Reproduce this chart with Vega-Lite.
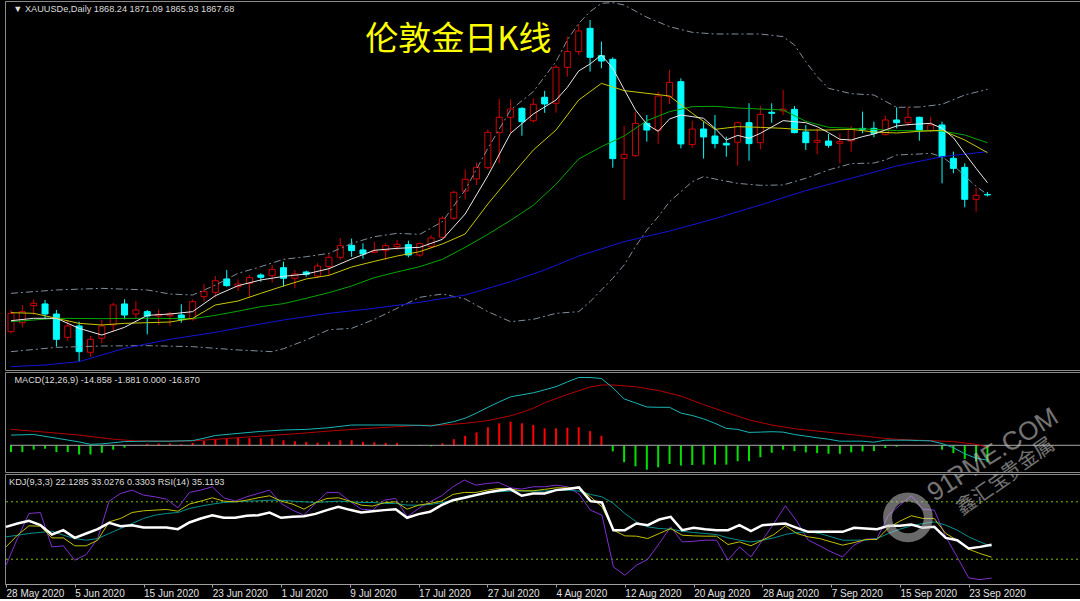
{"$schema":"https://vega.github.io/schema/vega-lite/v6.json","background":"#000000","padding":0,"spacing":0,"config":{"view":{"stroke":"#8a8a8a","strokeWidth":1},"concat":{"spacing":0}},
"datasets":{"g":[
{"i":0,"o":1705.7,"h":1731.4,"l":1703.7,"c":1727.4,"m5":1718.7,"m10":1728.2,"m20":1717.5,"m60":1664.2,"bu":1751.1,"bl":1682,"md":10.2,"sg":15.9,"hs":-6.8,"k":32.9,"d":43.4,"j":13.7,"r":53.8},
{"i":1,"o":1716.3,"h":1737.3,"l":1710.8,"c":1729.4,"hs":-6.8,"k":45.1,"d":45,"j":41.6,"r":57.3},
{"i":2,"o":1736.5,"h":1744,"l":1725.4,"c":1739.3,"m5":1721.5,"m10":1727.4,"md":10.8,"hs":-4.4,"k":54.9,"d":46.9,"j":67.8,"r":60.1},
{"i":3,"o":1738.5,"h":1743.2,"l":1721.5,"c":1726.6,"m60":1666.2,"sg":13.2,"hs":-3.4,"k":54.5,"d":48,"j":68.8,"r":55.6},
{"i":4,"o":1726.6,"h":1731.4,"l":1687.9,"c":1696.6,"m5":1721.5,"m10":1721.5,"m20":1721.5,"bu":1755.1,"bl":1687.1,"md":7.1,"hs":-6.8,"k":42.3,"d":49.3,"j":32.9,"r":45.8},
{"i":5,"o":1699,"h":1719.5,"l":1695,"c":1712.4,"hs":-6.8,"k":42.3,"d":45.1,"j":34,"r":50.4},
{"i":6,"o":1712.4,"h":1717.5,"l":1670.1,"c":1682,"m5":1709.6,"m10":1715.5,"m60":1670.1,"md":3.4,"sg":10.2,"hs":-9.2,"k":34,"d":41.6,"j":19,"r":42.3},
{"i":7,"o":1681.2,"h":1700.5,"l":1676.1,"c":1696.6,"md":1,"hs":-9.2,"k":34,"d":39.9,"j":24.9,"r":46.9},
{"i":8,"o":1697.8,"h":1719.5,"l":1691.9,"c":1712.4,"m5":1701.7,"m10":1713.6,"m20":1721.1,"bu":1757,"bl":1688.7,"md":1.4,"hs":-7.5,"k":39.9,"d":41.6,"j":41.6,"r":51.4},
{"i":9,"o":1713.6,"h":1740,"l":1705.7,"c":1737.3,"sg":6.1,"hs":-4.4,"k":59.1,"d":46.9,"j":80.7,"r":58},
{"i":10,"o":1738.5,"h":1744,"l":1720.3,"c":1725.4,"m5":1710.8,"m10":1715.5,"m60":1685.9,"md":3.7,"hs":-2.4,"k":62.6,"d":52.1,"j":88.7,"r":54.5},
{"i":11,"o":1726.6,"h":1742,"l":1721.5,"c":1731.4,"sg":4.4,"hs":0.3,"k":68.8,"d":57.3,"j":92.2,"r":55.6},
{"i":12,"o":1729.4,"h":1731.4,"l":1702.5,"c":1724.2,"m5":1725,"m10":1716.3,"m20":1721.5,"bu":1755.1,"bl":1689.1,"md":4.1,"hs":1.4,"k":70.6,"d":62.6,"j":87,"r":53.1},
{"i":13,"o":1724.2,"h":1732.1,"l":1713.6,"c":1726.2,"hs":1.7,"k":71.3,"d":66,"j":85.2,"r":53.1},
{"i":14,"o":1724.6,"h":1729.4,"l":1712.4,"c":1727,"m5":1726.6,"m10":1717.1,"m60":1696.6,"bu":1750.3,"md":4.1,"sg":4.1,"hs":1.7,"k":72,"d":67.8,"j":82.8,"r":53.1},
{"i":15,"o":1725.4,"h":1738.1,"l":1716.3,"c":1720.3,"hs":1,"k":70.2,"d":68.8,"j":73.7,"r":51.4},
{"i":16,"o":1720.7,"h":1744,"l":1718.7,"c":1741.2,"m5":1729.4,"m10":1721.5,"m20":1721,"bu":1749.1,"bl":1687.9,"md":4.7,"sg":4.4,"hs":2.4,"k":77.6,"d":73,"j":89.8,"r":58.4},
{"i":17,"o":1747.2,"h":1762.2,"l":1741.2,"c":1753.1,"md":7.1,"hs":4.4,"k":80.7,"d":75.5,"j":92.2,"r":62.6},
{"i":18,"o":1752.3,"h":1771.6,"l":1746,"c":1766.1,"m5":1748.3,"m10":1737.3,"m20":1725,"m60":1704.9,"bu":1760.9,"md":9.8,"hs":6.1,"k":84.2,"d":77.6,"j":95.7,"r":66},
{"i":19,"o":1768.1,"h":1778.8,"l":1759,"c":1760.2,"sg":6.8,"hs":7.1,"k":80.7,"d":79.3,"j":84.2,"r":63.3},
{"i":20,"o":1759,"h":1767.7,"l":1753.9,"c":1762.2,"m5":1760.2,"m10":1742,"m20":1730,"bu":1774.8,"bl":1684,"md":11.9,"hs":7.5,"k":80,"d":80,"j":80.7,"r":63.3},
{"i":21,"o":1763,"h":1772.8,"l":1746,"c":1769.7,"hs":7.1,"k":81.7,"d":80.7,"j":85.2,"r":65.4},
{"i":22,"o":1772.8,"h":1774.8,"l":1765,"c":1770.1,"m5":1766.9,"m10":1751.1,"m20":1735.3,"m60":1714.8,"bu":1782.7,"md":13.9,"sg":9.2,"hs":7.1,"k":84.2,"d":81,"j":88.7,"r":66},
{"i":23,"o":1772,"h":1784.7,"l":1763.7,"c":1779.5,"bl":1682,"hs":6.8,"k":86.3,"d":81.7,"j":92.2,"r":68.8},
{"i":24,"o":1781.5,"h":1788.6,"l":1759,"c":1768.9,"m5":1771.2,"m10":1759.8,"m20":1738.9,"m60":1719.5,"bu":1791.4,"bl":1685.5,"md":15.3,"hs":5.1,"k":80.7,"d":81.7,"j":78.3,"r":63.3},
{"i":25,"o":1768.9,"h":1778.8,"l":1757,"c":1774,"sg":11.5,"hs":4.1,"k":77.6,"d":80.7,"j":71.3,"r":64.3},
{"i":26,"o":1776.4,"h":1778,"l":1770.9,"c":1773.6,"m5":1774,"m10":1768.1,"m20":1745.2,"bu":1794.5,"bl":1695.8,"md":15.9,"hs":3.4,"k":72.3,"d":80,"j":66,"r":65},
{"i":27,"o":1771.6,"h":1786.6,"l":1768.9,"c":1783.5,"hs":2.7,"k":79,"d":79.3,"j":78.3,"r":67.4},
{"i":28,"o":1782.7,"h":1797.7,"l":1772.8,"c":1793.8,"m5":1780.3,"m10":1772.4,"m20":1751.9,"m60":1727.4,"bu":1798.5,"bl":1708,"md":17.6,"sg":14.2,"hs":3.4,"k":83.5,"d":80,"j":89.8,"r":71.3},
{"i":29,"o":1793.8,"h":1816.7,"l":1790.6,"c":1807.6,"hs":5.1,"k":84.2,"d":80.7,"j":89.8,"r":74.8},
{"i":30,"o":1808,"h":1815.9,"l":1794.5,"c":1801.7,"m5":1791.8,"m10":1782.3,"m20":1759.8,"bu":1810.3,"bl":1709.6,"md":20.3,"hs":5.1,"k":80.7,"d":80,"j":80.7,"r":71.6},
{"i":31,"o":1802.5,"h":1810.3,"l":1792.2,"c":1797.7,"sg":16.6,"hs":3.4,"k":76.5,"d":79.3,"j":72.3,"r":68.8},
{"i":32,"o":1799.7,"h":1812.3,"l":1798.5,"c":1801.3,"m5":1802.1,"m10":1789,"m20":1769.7,"m60":1733.3,"bu":1818.2,"bl":1720.3,"md":20.3,"hs":3.1,"k":75.5,"d":79.3,"j":71.3,"r":70.2},
{"i":33,"o":1801.7,"h":1810.3,"l":1790.6,"c":1807.6,"hs":2.4,"k":79,"d":78.3,"j":81.7,"r":71.3},
{"i":34,"o":1806.4,"h":1814.3,"l":1802.5,"c":1809.2,"m5":1804.4,"m10":1795.3,"m20":1776.4,"bu":1822.2,"bl":1733.3,"md":20.3,"sg":18.6,"hs":2.4,"k":80,"d":78.3,"j":83.5,"r":72.3},
{"i":35,"o":1808.8,"h":1813.5,"l":1793.8,"c":1796.5,"hs":0.3,"k":72.3,"d":76.5,"j":64.3,"r":63.3},
{"i":36,"o":1796.5,"h":1811.1,"l":1794.5,"c":1810,"m5":1805.6,"m10":1800.5,"m20":1782.7,"m60":1740.5,"bu":1821,"bl":1746.4,"md":20,"sg":20,"hs":-0.7,"k":76.5,"d":76.5,"j":73,"r":67.1},
{"i":37,"o":1806.4,"h":1820.2,"l":1804.4,"c":1816.7,"md":19.3,"hs":-1,"k":78.3,"d":77.2,"j":80,"r":69.5},
{"i":38,"o":1817.5,"h":1842.7,"l":1815.9,"c":1840,"m5":1815.1,"m10":1809.6,"m20":1791.4,"bu":1836,"bl":1750.3,"md":21.4,"sg":20.3,"hs":2,"k":80.7,"d":79,"j":86.3,"r":76.5},
{"i":39,"o":1840,"h":1872.4,"l":1838,"c":1870.8,"md":23.7,"hs":6.1,"k":87.7,"d":81.7,"j":95.7,"r":81.7},
{"i":40,"o":1872.4,"h":1898,"l":1862.5,"c":1886.2,"m5":1845.1,"m10":1821.4,"m20":1805.6,"m60":1749.1,"bu":1873.6,"bl":1744.4,"md":27.1,"sg":22,"hs":9.5,"k":89.8,"d":85.2,"j":102.7,"r":84.2},
{"i":41,"o":1886.6,"h":1906,"l":1879.5,"c":1900.4,"md":32.2,"hs":12.9,"k":89.8,"d":87.7,"j":97.4,"r":87},
{"i":42,"o":1900,"h":1945.4,"l":1898,"c":1941.9,"m5":1890.5,"m10":1857,"m20":1821,"bu":1922.9,"bl":1729.4,"md":38,"sg":24.7,"hs":18,"k":92.2,"d":89.8,"j":99.2,"r":89.8},
{"i":43,"o":1941.5,"h":1981.4,"l":1905.2,"c":1959.7,"md":43.4,"hs":22,"k":94,"d":90.5,"j":100.2,"r":91.9},
{"i":44,"o":1959.7,"h":1981,"l":1940.7,"c":1969.5,"m5":1940.7,"m10":1889.4,"m20":1837.6,"m60":1764.9,"bu":1968.4,"bl":1717.5,"md":48.5,"sg":29.5,"hs":23.7,"k":93.3,"d":91.2,"j":94.6,"r":93.3},
{"i":45,"o":1970.3,"h":1971.5,"l":1937.9,"c":1954.5,"md":50.5,"sg":33,"hs":22,"k":91.5,"d":91.2,"j":93.3,"r":86.3},
{"i":46,"o":1955.7,"h":1982.2,"l":1953.3,"c":1975.1,"m5":1963.6,"m10":1920.9,"m20":1855.4,"bu":1990.1,"bl":1720.3,"md":52.5,"sg":37,"hs":20.3,"k":91.5,"d":91.2,"j":95.7,"r":88.7},
{"i":47,"o":1983.4,"h":1991,"l":1965,"c":1975.5,"m60":1778.8,"md":55.5,"sg":42.5,"hs":16.9,"k":93,"d":91.2,"j":95.7,"r":88.7},
{"i":48,"o":1976.3,"h":2021.7,"l":1965.2,"c":2018.9,"m5":1980.2,"m10":1944.6,"m20":1880.3,"bu":2025.6,"bl":1727.4,"md":58.6,"hs":16.9,"k":94.6,"d":92.2,"j":97.4,"r":92.2},
{"i":49,"o":2018.9,"h":2055.3,"l":2007.9,"c":2037.5,"m5":1995.2,"bu":2051.3,"md":63.4,"sg":50.8,"hs":17.6,"k":94.6,"d":92.2,"j":95.7,"r":93.3},
{"i":50,"o":2037.5,"h":2070.3,"l":2033.5,"c":2062,"m5":2014.6,"m10":1980.2,"m20":1910.3,"m60":1795.3,"bu":2071,"bl":1729.4,"md":67.8,"hs":18,"k":94,"d":91.2,"j":88,"r":95},
{"i":51,"o":2065.1,"h":2075,"l":2013.8,"c":2030.8,"m5":2022.9,"bu":2084.9,"bl":1741.2,"md":67.8,"sg":58.3,"hs":14.2,"k":85.2,"d":87.7,"j":71.3,"r":80.7},
{"i":52,"o":2032.7,"h":2049.3,"l":2017.7,"c":2026.4,"m5":2033.5,"m10":1999.9,"m20":1924.9,"bu":2094.8,"bl":1755.1,"md":66.8,"sg":60.3,"hs":9.5,"k":74.8,"d":85.2,"j":66,"r":79.3},
{"i":53,"o":2028.4,"h":2030.8,"l":1900,"c":1910.7,"m5":2017.7,"bu":2095.5,"bl":1768.9,"md":57.6,"sg":60.3,"hs":-6.1,"k":50.4,"d":78.3,"j":12,"r":50.4},
{"i":54,"o":1911.1,"h":1949.4,"l":1861.7,"c":1915.8,"m5":1992.8,"m10":1991.3,"m20":1937.5,"m60":1812.3,"bu":2092.8,"bl":1784.7,"md":46.4,"hs":-16.9,"k":44.4,"d":67.8,"j":3.3,"r":50.4},
{"i":55,"o":1914.2,"h":1966.4,"l":1913,"c":1952.5,"m5":1968.4,"bl":1806.4,"md":42.4,"sg":58.6,"hs":-21,"k":44.1,"d":59.1,"j":13.7,"r":57.3},
{"i":56,"o":1952.5,"h":1962.4,"l":1930.8,"c":1944.6,"m5":1951.4,"m10":1988.1,"m20":1955.7,"bu":2078.2,"bl":1826.1,"md":38.3,"hs":-24.4,"k":41.6,"d":53.8,"j":20,"r":55.6},
{"i":57,"o":1944.6,"h":1990.1,"l":1928.1,"c":1984.9,"m5":1943.1,"bl":1841.9,"md":38,"sg":54.9,"hs":-22,"k":46.9,"d":52.1,"j":36.4,"r":61.5},
{"i":58,"o":1984.2,"h":2015.8,"l":1975.5,"c":2001.1,"m5":1957.7,"m10":1984.9,"m20":1966.4,"m60":1824.9,"bu":2067.1,"bl":1859.7,"md":38,"hs":-18.6,"k":52.1,"d":51.4,"j":53.8,"r":64.3},
{"i":59,"o":2001.9,"h":2005.9,"l":1922.9,"c":1928.1,"m5":1962.4,"md":32.2,"sg":49.2,"hs":-20.3,"k":45.1,"d":49.3,"j":38.1,"r":50.4},
{"i":60,"o":1927.3,"h":1955.7,"l":1923.7,"c":1945.8,"m5":1960.5,"m10":1964.4,"m20":1972.3,"bu":2060.4,"bl":1883.4,"md":29.8,"hs":-19.7,"k":44.4,"d":47.9,"j":38.8,"r":52.8},
{"i":61,"o":1945.8,"h":1954.5,"l":1910.7,"c":1936.4,"m5":1958.5,"bl":1889.4,"md":26.4,"sg":40.7,"hs":-19.3,"k":44.1,"d":46.9,"j":39.9,"r":51.4},
{"i":62,"o":1937.5,"h":1962.4,"l":1922.9,"c":1928.5,"m5":1946.6,"m10":1945.4,"m20":1972.7,"m60":1839.6,"bu":2058.4,"bl":1886.6,"md":22,"hs":-19.3,"k":44.1,"d":45.8,"j":39.9,"r":50.4},
{"i":63,"o":1928.9,"h":1936.8,"l":1913,"c":1926.9,"m5":1932.8,"md":16.9,"sg":32.9,"hs":-19.3,"k":35.4,"d":42.3,"j":19,"r":50.4},
{"i":64,"o":1930.1,"h":1954.5,"l":1902.4,"c":1953.3,"m5":1938.3,"m10":1948.6,"m20":1970.7,"bu":2058.4,"bl":1881.4,"md":15.9,"hs":-15.9,"k":38.1,"d":39.9,"j":32.9,"r":55.6},
{"i":65,"o":1953.3,"h":1976.3,"l":1908.3,"c":1928.5,"m5":1934.8,"md":12.9,"sg":25.4,"hs":-15.9,"k":34,"d":38.1,"j":22.4,"r":49.3},
{"i":66,"o":1929.6,"h":1973.1,"l":1921.7,"c":1963.2,"m5":1940.7,"m10":1947.8,"m20":1969.5,"m60":1855.8,"bu":2058.4,"bl":1879.1,"md":13.2,"hs":-11.9,"k":39.9,"d":39.9,"j":39.9,"r":55.6},
{"i":67,"o":1965.6,"h":1976.3,"l":1953.3,"c":1964.4,"m5":1948.2,"md":13.6,"sg":20.3,"hs":-7.5,"k":45.8,"d":42.3,"j":57.3,"r":56.6},
{"i":68,"o":1967.2,"h":1992.1,"l":1962.4,"c":1969.5,"m5":1955.7,"m10":1946.6,"m20":1968.4,"bu":2055.3,"bl":1879.5,"md":13.2,"hs":-4.4,"k":54.9,"d":45.8,"j":75.8,"r":57.3},
{"i":69,"o":1969.1,"h":1973.1,"l":1940.7,"c":1941.5,"m5":1954.5,"bu":2045.4,"md":10.8,"sg":16.6,"hs":-5.8,"k":46.9,"d":47.9,"j":59.8,"r":52.8},
{"i":70,"o":1942.3,"h":1950.6,"l":1921,"c":1929.6,"m5":1953.3,"m10":1944.6,"m20":1954.9,"m60":1872.8,"bu":2025.6,"bl":1887.4,"md":9.2,"hs":-7.1,"k":43.4,"d":48.6,"j":39.9,"r":48.6},
{"i":71,"o":1930.1,"h":1946.6,"l":1915.8,"c":1932.4,"m5":1948.6,"bu":2007.9,"md":7.5,"sg":14.2,"hs":-7.8,"k":41.6,"d":46.9,"j":34,"r":48.6},
{"i":72,"o":1931.6,"h":1939.9,"l":1923.7,"c":1926.5,"m5":1941.5,"m10":1944.6,"m20":1947.8,"bu":1994,"bl":1897.3,"md":6.1,"hs":-8.5,"k":38.1,"d":43.4,"j":27.7,"r":48.6},
{"i":73,"o":1928.9,"h":1940.7,"l":1905.2,"c":1930.8,"m5":1933.6,"md":4.1,"sg":11.9,"hs":-8.5,"k":34.7,"d":39.9,"j":22.4,"r":48.6},
{"i":74,"o":1931.6,"h":1949.4,"l":1919,"c":1945.4,"m5":1932.8,"m10":1945.4,"m20":1946.6,"m60":1887.4,"bu":1987.7,"bl":1904.8,"md":4.1,"hs":-7.1,"k":37.4,"d":39.9,"j":34.7,"r":52.8},
{"i":75,"o":1946.6,"h":1966.4,"l":1940.7,"c":1945.4,"m5":1936.8,"md":4.1,"sg":9.5,"hs":-6.1,"k":40.6,"d":39.9,"j":40.9,"r":52.1},
{"i":76,"o":1946.6,"h":1954.5,"l":1936,"c":1940.7,"m5":1939.9,"m10":1942.3,"m20":1945.4,"bu":1986.1,"bl":1905.5,"md":3.1,"hs":-5.8,"k":40.6,"d":41.6,"j":41.6,"r":51.4},
{"i":77,"o":1939.5,"h":1961.6,"l":1937.9,"c":1956.5,"m5":1944.6,"bl":1909.1,"md":5.1,"sg":6.8,"hs":-2.7,"k":52.8,"d":46.9,"j":66,"r":54.9},
{"i":78,"o":1956.5,"h":1971.5,"l":1946.6,"c":1953.3,"m5":1949.4,"m10":1941.1,"m20":1943.9,"m60":1902,"bu":1971.5,"bl":1915,"md":5.1,"hs":-1.4,"k":59.8,"d":51.4,"j":76.5,"r":54.9},
{"i":79,"o":1953.3,"h":1972.3,"l":1949.4,"c":1959.7,"m5":1951,"md":5.1,"sg":5.4,"hs":0.3,"k":65.4,"d":54.9,"j":86.3,"r":56.3},
{"i":80,"o":1959.7,"h":1960.4,"l":1932,"c":1943.9,"m5":1951.8,"m10":1943.1,"m20":1943.9,"bu":1971.9,"bl":1916.2,"md":4.7,"hs":0,"k":62.6,"d":57.3,"j":72.3,"r":52.8},
{"i":81,"o":1943.9,"h":1960.4,"l":1941.9,"c":1950.6,"m5":1952.5,"bl":1917,"md":4.4,"sg":4.7,"hs":0,"k":62.6,"d":59.1,"j":71.3,"r":53.8},
{"i":82,"o":1950.6,"h":1954.5,"l":1881.4,"c":1913,"m5":1946.6,"m10":1944.3,"m20":1943.5,"m60":1913,"bu":1975.1,"bl":1913,"md":1.7,"hs":-4.4,"k":46.9,"d":55.6,"j":43.4,"r":42.3},
{"i":83,"o":1911.1,"h":1919,"l":1893.3,"c":1899.2,"m5":1935.6,"bl":1903,"md":-2.4,"sg":3.7,"hs":-7.8,"k":39.9,"d":50.4,"j":22.4,"r":39.9},
{"i":84,"o":1900.4,"h":1905.2,"l":1853,"c":1862.5,"m5":1917,"m10":1932.8,"m20":1938.7,"bu":1986.1,"bl":1890,"md":-8.5,"hs":-13.6,"k":30.5,"d":43.4,"j":0.5,"r":31.2},
{"i":85,"o":1862.5,"h":1876.3,"l":1847.9,"c":1867.2,"m5":1899.2,"bl":1878,"md":-12.9,"sg":1,"hs":-15.9,"k":25.9,"d":38.1,"j":-1.3,"r":32.9},
{"i":86,"o":1868.24,"h":1871.09,"l":1865.93,"c":1867.68,"m5":1882.2,"m10":1917.8,"m20":1929.6,"m60":1919,"bu":1992.8,"bl":1868,"md":-14.858,"sg":-1.881,"hs":-16.87,"k":22.1285,"d":33.0276,"j":0.3303,"r":35.1193}
]},
"vconcat":[
{"width":1080,"height":369,"data":{"name":"g"},
"layer":[
{"mark":{"type":"rule","strokeWidth":1},"encoding":{"x":{"field":"i","type":"quantitative","scale":{"domain":[-0.087,94.15],"nice":false,"zero":false},"axis":null},"y":{"field":"l","type":"quantitative","scale":{"domain":[1660.25,2097.5],"nice":false,"zero":false},"axis":null},"y2":{"field":"h"},"color":{"condition":{"test":"datum.c>=datum.o","value":"#d00000"},"value":"#00ffff"}}},
{"mark":{"type":"bar","size":6,"strokeWidth":1},"encoding":{"x":{"field":"i","type":"quantitative","axis":null},"y":{"field":"o","type":"quantitative","axis":null},"y2":{"field":"c"},"fill":{"condition":{"test":"datum.c>=datum.o","value":"#000000"},"value":"#00ffff"},"stroke":{"condition":{"test":"datum.c>=datum.o","value":"#d00000"},"value":"#00ffff"}}},
{"transform":[{"filter":"isValid(datum.bu)"}],"mark":{"type":"line","color":"#7f8e9c","strokeWidth":1,"strokeDash":[7,3,2,3]},"encoding":{"x":{"field":"i","type":"quantitative","axis":null},"y":{"field":"bu","type":"quantitative","axis":null}}},
{"transform":[{"filter":"isValid(datum.bl)"}],"mark":{"type":"line","color":"#7f8e9c","strokeWidth":1,"strokeDash":[7,3,2,3]},"encoding":{"x":{"field":"i","type":"quantitative","axis":null},"y":{"field":"bl","type":"quantitative","axis":null}}},
{"transform":[{"filter":"isValid(datum.m60)"}],"mark":{"type":"line","color":"#1414d8","strokeWidth":1},"encoding":{"x":{"field":"i","type":"quantitative","axis":null},"y":{"field":"m60","type":"quantitative","axis":null}}},
{"transform":[{"filter":"isValid(datum.m20)"}],"mark":{"type":"line","color":"#00a800","strokeWidth":1},"encoding":{"x":{"field":"i","type":"quantitative","axis":null},"y":{"field":"m20","type":"quantitative","axis":null}}},
{"transform":[{"filter":"isValid(datum.m10)"}],"mark":{"type":"line","color":"#c8c800","strokeWidth":1},"encoding":{"x":{"field":"i","type":"quantitative","axis":null},"y":{"field":"m10","type":"quantitative","axis":null}}},
{"transform":[{"filter":"isValid(datum.m5)"}],"mark":{"type":"line","color":"#e8e8e8","strokeWidth":1},"encoding":{"x":{"field":"i","type":"quantitative","axis":null},"y":{"field":"m5","type":"quantitative","axis":null}}},
{"data":{"values":[{}]},"mark":{"type":"text","align":"left","baseline":"top","dy":4,"font":"Liberation Sans","fontSize":9.2,"color":"#dcdcdc","text":"▼ XAUUSDe,Daily  1868.24 1871.09 1865.93 1867.68"},"encoding":{"x":{"datum":0.2,"type":"quantitative","axis":null},"y":{"datum":2097.5,"type":"quantitative","axis":null}}},
{"data":{"values":[{}]},"mark":{"type":"text","align":"center","baseline":"middle","font":"Noto Sans CJK SC","fontSize":33,"color":"#ffff00","text":"伦敦金日K线"},"encoding":{"x":{"datum":39.4,"type":"quantitative","axis":null},"y":{"datum":2051.3,"type":"quantitative","axis":null}}}
]},
{"width":1080,"height":100,"data":{"name":"g"},
"layer":[
{"mark":{"type":"bar","size":2},"encoding":{"x":{"field":"i","type":"quantitative","scale":{"domain":[-0.087,94.15],"nice":false,"zero":false},"axis":null},"y":{"field":"hs","type":"quantitative","scale":{"domain":[-26.7,73.3],"nice":false,"zero":false},"axis":null},"y2":{"datum":0},"color":{"condition":{"test":"datum.hs>0","value":"#ff0000"},"value":"#00e000"}}},
{"data":{"values":[{}]},"mark":{"type":"rule","color":"#a8a8a8","strokeWidth":1},"encoding":{"x":{"datum":-0.087,"type":"quantitative","axis":null},"x2":{"datum":94.15},"y":{"datum":0,"type":"quantitative","axis":null}}},
{"transform":[{"filter":"isValid(datum.sg)"}],"mark":{"type":"line","color":"#b40000","strokeWidth":1},"encoding":{"x":{"field":"i","type":"quantitative","axis":null},"y":{"field":"sg","type":"quantitative","axis":null}}},
{"transform":[{"filter":"isValid(datum.md)"}],"mark":{"type":"line","color":"#1ab4b4","strokeWidth":1},"encoding":{"x":{"field":"i","type":"quantitative","axis":null},"y":{"field":"md","type":"quantitative","axis":null}}},
{"data":{"values":[{}]},"mark":{"type":"text","align":"left","baseline":"top","dy":4,"font":"Liberation Sans","fontSize":9.2,"color":"#dcdcdc","text":"MACD(12,26,9) -14.858 -1.881 0.000 -16.870"},"encoding":{"x":{"datum":0.3,"type":"quantitative","axis":null},"y":{"datum":73.3,"type":"quantitative","axis":null}}},
{"data":{"values":[{}]},"mark":{"type":"text","clip":true,"align":"center","baseline":"middle","angle":328,"font":"Liberation Sans","fontSize":26,"color":"#c0c0c0","opacity":0.6,"text":"91PME.COM"},"encoding":{"x":{"datum":86.3,"type":"quantitative","axis":null},"y":{"datum":-9.7,"type":"quantitative","axis":null}}},
{"data":{"values":[{}]},"mark":{"type":"text","clip":true,"align":"center","baseline":"middle","angle":325,"font":"Noto Sans CJK SC","fontSize":20,"color":"#c0c0c0","opacity":0.6,"text":"鑫汇宝贵金属"},"encoding":{"x":{"datum":87.4,"type":"quantitative","axis":null},"y":{"datum":-31.7,"type":"quantitative","axis":null}}}
]},
{"width":1080,"height":110,"data":{"name":"g"},
"encoding":{"x":{"field":"i","type":"quantitative","scale":{"domain":[-0.087,94.15],"nice":false,"zero":false},"axis":{"values":[0,6,12,18,24,30,36,42,48,54,60,66,72,78,84],"labelExpr":"['28 May 2020','5 Jun 2020','15 Jun 2020','23 Jun 2020','1 Jul 2020','9 Jul 2020','17 Jul 2020','27 Jul 2020','4 Aug 2020','12 Aug 2020','20 Aug 2020','28 Aug 2020','7 Sep 2020','15 Sep 2020','23 Sep 2020'][round(datum.value/6)]","labelAlign":"left","labelBaseline":"top","labelPadding":1,"labelColor":"#e0e0e0","labelFont":"Liberation Sans","labelFontSize":10,"labelFlush":false,"labelOverlap":false,"tickColor":"#a0a0a0","tickSize":3,"domainColor":"#a0a0a0","grid":false,"title":null}}},
"layer":[
{"transform":[{"filter":"datum.i==0"}],"mark":{"type":"rule","color":"#78c000","strokeWidth":1,"strokeDash":[2,3]},"encoding":{"x2":{"datum":94.15},"y":{"datum":80,"type":"quantitative","scale":{"domain":[-5.89,109.05],"nice":false,"zero":false},"axis":null}}},
{"transform":[{"filter":"datum.i==0"}],"mark":{"type":"rule","color":"#78c000","strokeWidth":1,"strokeDash":[2,3]},"encoding":{"x2":{"datum":94.15},"y":{"datum":20,"type":"quantitative","axis":null}}},
{"mark":{"type":"line","color":"#7f2fd0","strokeWidth":1},"encoding":{"y":{"field":"j","type":"quantitative","axis":null}}},
{"mark":{"type":"line","color":"#009090","strokeWidth":1},"encoding":{"y":{"field":"d","type":"quantitative","axis":null}}},
{"mark":{"type":"line","color":"#c0c000","strokeWidth":1},"encoding":{"y":{"field":"k","type":"quantitative","axis":null}}},
{"mark":{"type":"line","color":"#ffffff","strokeWidth":2.5},"encoding":{"y":{"field":"r","type":"quantitative","axis":null}}},
{"transform":[{"filter":"datum.i==0"}],"mark":{"type":"text","align":"left","baseline":"top","dx":3,"dy":4,"font":"Liberation Sans","fontSize":9.2,"color":"#dcdcdc","text":"KDJ(9,3,3) 22.1285 33.0276 0.3303  RSI(14) 35.1193"},"encoding":{"y":{"datum":109.05,"type":"quantitative","axis":null}}},
{"transform":[{"filter":"datum.i==0"}],"mark":{"type":"point","clip":true,"shape":"circle","filled":false,"size":1660,"strokeWidth":9,"color":"#c0c0c0","opacity":0.55},"encoding":{"x":{"datum":78.7,"type":"quantitative"},"y":{"datum":63.6,"type":"quantitative","axis":null}}},
{"transform":[{"filter":"datum.i==0"}],"mark":{"type":"text","clip":true,"align":"center","baseline":"middle","angle":328,"font":"Liberation Sans","fontSize":26,"color":"#c0c0c0","opacity":0.6,"text":"91PME.COM"},"encoding":{"x":{"datum":86.3,"type":"quantitative"},"y":{"datum":129.4,"type":"quantitative","axis":null}}},
{"transform":[{"filter":"datum.i==0"}],"mark":{"type":"text","clip":true,"align":"center","baseline":"middle","angle":325,"font":"Noto Sans CJK SC","fontSize":20,"color":"#c0c0c0","opacity":0.6,"text":"鑫汇宝贵金属"},"encoding":{"x":{"datum":87.4,"type":"quantitative"},"y":{"datum":106.4,"type":"quantitative","axis":null}}}
]}
]}
